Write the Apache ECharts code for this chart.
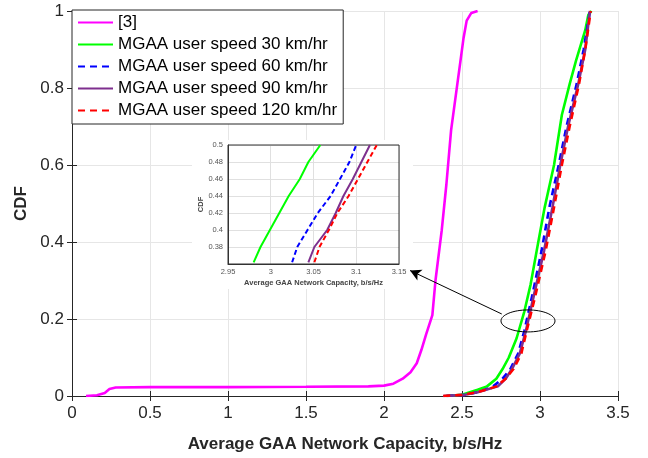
<!DOCTYPE html>
<html>
<head>
<meta charset="utf-8">
<script src="https://cdn.jsdelivr.net/npm/echarts@6/dist/echarts.min.js"></script>
<style>
  html, body { margin: 0; padding: 0; background: #fff; }
  #main { width: 648px; height: 458px; }
</style>
</head>
<body>
<div id="main"></div>
<script>
// legend names
var names = ['[3]', 'MGAA user speed 30 km/hr', 'MGAA user speed 60 km/hr', 'MGAA user speed 90 km/hr', 'MGAA user speed 120 km/hr']

// main plot, CDF curves (capacity x, cdf y)
var refX = [0.09, 0.16, 0.21, 0.24, 0.28, 0.5, 1.0, 1.5, 1.9, 2.0, 2.06, 2.12, 2.17, 2.21, 2.24, 2.27, 2.31, 2.33, 2.37, 2.40, 2.43, 2.47, 2.49, 2.51, 2.53, 2.56, 2.60]
var refY = [0, 0.002, 0.008, 0.018, 0.022, 0.023, 0.023, 0.024, 0.025, 0.027, 0.032, 0.045, 0.062, 0.085, 0.12, 0.16, 0.21, 0.30, 0.43, 0.55, 0.69, 0.81, 0.87, 0.93, 0.975, 0.995, 1.0]

var s30X = [2.40, 2.50, 2.55, 2.60, 2.66, 2.72, 2.76, 2.80, 2.85, 2.90, 2.94, 2.98, 3.03, 3.09, 3.14, 3.19, 3.23, 3.26, 3.29, 3.31, 3.33]
var s30Y = [0, 0.003, 0.01, 0.016, 0.025, 0.045, 0.07, 0.10, 0.15, 0.22, 0.29, 0.38, 0.49, 0.60, 0.73, 0.81, 0.87, 0.91, 0.95, 0.99, 1.0]

var speedY = [0, 0.003, 0.01, 0.018, 0.025, 0.045, 0.07, 0.11, 0.17, 0.26, 0.377, 0.49, 0.60, 0.70, 0.81, 0.90, 1.0]
var s60X  = [2.40, 2.52, 2.60, 2.66, 2.70, 2.76, 2.81, 2.86, 2.90, 2.95, 3.01, 3.06, 3.12, 3.17, 3.235, 3.28, 3.32]
var s90X  = [2.38, 2.52, 2.60, 2.67, 2.73, 2.78, 2.82, 2.87, 2.91, 2.96, 3.026, 3.08, 3.13, 3.18, 3.245, 3.29, 3.32]
var s120X = [2.38, 2.50, 2.60, 2.67, 2.72, 2.78, 2.83, 2.88, 2.915, 2.97, 3.036, 3.09, 3.14, 3.19, 3.25, 3.29, 3.325]

// inset (zoom of 0.36..0.5)
var insetY    = [0.362, 0.38, 0.40, 0.42, 0.44, 0.46, 0.48, 0.50]
var inset30X  = [2.980, 2.988, 2.999, 3.010, 3.021, 3.034, 3.044, 3.058]
var inset60X  = [3.025, 3.031, 3.043, 3.055, 3.070, 3.081, 3.092, 3.100]
var inset90X  = [3.044, 3.051, 3.066, 3.076, 3.085, 3.096, 3.106, 3.116]
var inset120X = [3.051, 3.057, 3.068, 3.078, 3.091, 3.102, 3.113, 3.124]

var colors = ['#ff00ff', '#00ff00', '#0000ff', '#7e2f8e', '#ff0000']
var font = 'Liberation Sans, Arial, Helvetica, sans-serif'

function pairs(xs, ys) {
  return xs.map(function (x, i) { return [x, ys[i]] })
}

function mainLine(i, data, dashed) {
  return {
    name: names[i], type: 'line', xAxisIndex: 0, yAxisIndex: 0,
    data: data, showSymbol: false, symbol: 'none', silent: true,
    lineStyle: { color: colors[i], width: 2.6, type: dashed ? [7, 5] : 'solid' },
    itemStyle: { color: colors[i] }
  }
}

function insetLine(i, data, dashed) {
  return {
    type: 'line', xAxisIndex: 2, yAxisIndex: 2, z: 4,
    data: data, showSymbol: false, symbol: 'none', silent: true,
    lineStyle: { color: colors[i], width: 2, type: dashed ? [5, 3] : 'solid' }
  }
}

var myChart = echarts.init(document.getElementById('main'), null, { renderer: 'canvas' })

var refSeries = mainLine(0, pairs(refX, refY), false)
// arrow from the ellipse to the inset
refSeries.markLine = {
  silent: true, symbol: ['none', 'arrow'], symbolSize: [9, 11],
  label: { show: false },
  lineStyle: { color: '#000', width: 1, type: 'solid' },
  data: [[{ coord: [2.755, 0.213] }, { coord: [2.167, 0.326] }]]
}

var option = {
  animation: false,
  backgroundColor: '#fff',
  textStyle: { fontFamily: font },
  grid: [
    { left: 72, right: 30, top: 11, bottom: 58.5, show: false },
    { left: 228, right: 249, top: 145, bottom: 194, show: true, z: 2, backgroundColor: '#fff', borderWidth: 0 }
  ],
  legend: {
    orient: 'vertical', left: 72, top: 10, width: 269,
    padding: [3, 6, 4, 5], itemGap: 3, itemWidth: 35, itemHeight: 14,
    borderColor: '#262626', borderWidth: 1, backgroundColor: '#fff',
    selectedMode: false, z: 5,
    itemStyle: { opacity: 0 },
    textStyle: { fontFamily: font, fontSize: 17, color: '#000', lineHeight: 19 },
    data: names
  },
  xAxis: [
    {
      type: 'value', gridIndex: 0, min: 0, max: 3.5, interval: 0.5,
      name: 'Average GAA Network Capacity, b/s/Hz', nameLocation: 'middle', nameGap: 40,
      nameTextStyle: { fontSize: 17, fontWeight: 'bold', color: '#262626', fontFamily: font },
      axisLine: { show: true, lineStyle: { color: '#262626', width: 1 } },
      axisTick: { show: true, inside: true, length: 5, lineStyle: { color: '#262626' } },
      axisLabel: { fontSize: 17, color: '#262626', margin: 9, fontFamily: font },
      splitLine: { show: true, lineStyle: { color: '#e6e6e6', width: 1 } }
    },
    {
      type: 'value', gridIndex: 0, min: 0, max: 3.5, interval: 0.5, position: 'top',
      axisLine: { show: true, lineStyle: { color: '#262626', width: 1 } },
      axisTick: { show: true, inside: true, length: 5, lineStyle: { color: '#262626' } },
      axisLabel: { show: false }, splitLine: { show: false }
    },
    {
      type: 'value', gridIndex: 1, min: 2.95, max: 3.15, interval: 0.05, z: 2,
      name: 'Average GAA Network Capacity, b/s/Hz', nameLocation: 'middle', nameGap: 15,
      nameTextStyle: { fontSize: 7.5, fontWeight: 'bold', color: '#444', fontFamily: font },
      axisLine: { show: true, onZero: false, lineStyle: { color: '#333', width: 1 } },
      axisTick: { show: false },
      axisLabel: { fontSize: 7.5, color: '#555', margin: 4, fontFamily: font },
      splitLine: { show: true, lineStyle: { color: '#e0e0e0', width: 1 } }
    }
  ],
  yAxis: [
    {
      type: 'value', gridIndex: 0, min: 0, max: 1, interval: 0.2,
      name: 'CDF', nameLocation: 'middle', nameGap: 38, nameRotate: 90,
      nameTextStyle: { fontSize: 17, fontWeight: 'bold', color: '#262626', fontFamily: font },
      axisLine: { show: true, lineStyle: { color: '#262626', width: 1 } },
      axisTick: { show: true, inside: true, length: 5, lineStyle: { color: '#262626' } },
      axisLabel: { fontSize: 17, color: '#262626', margin: 8, fontFamily: font },
      splitLine: { show: true, lineStyle: { color: '#e6e6e6', width: 1 } }
    },
    {
      type: 'value', gridIndex: 0, min: 0, max: 1, interval: 0.2, position: 'right',
      axisLine: { show: true, lineStyle: { color: '#262626', width: 1 } },
      axisTick: { show: true, inside: true, length: 5, lineStyle: { color: '#262626' } },
      axisLabel: { show: false }, splitLine: { show: false }
    },
    {
      type: 'value', gridIndex: 1, min: 0.36, max: 0.5, interval: 0.02, z: 2,
      name: 'CDF', nameLocation: 'middle', nameGap: 23, nameRotate: 90,
      nameTextStyle: { fontSize: 7.5, fontWeight: 'bold', color: '#444', fontFamily: font },
      axisLine: { show: true, onZero: false, lineStyle: { color: '#333', width: 1 } },
      axisTick: { show: false },
      axisLabel: { fontSize: 7.5, color: '#555', margin: 5, showMinLabel: false, fontFamily: font },
      splitLine: { show: true, lineStyle: { color: '#e0e0e0', width: 1 } }
    }
  ],
  series: [
    refSeries,
    mainLine(1, pairs(s30X, s30Y), false),
    mainLine(2, pairs(s60X, speedY), true),
    mainLine(3, pairs(s90X, speedY), false),
    mainLine(4, pairs(s120X, speedY), true),
    insetLine(1, pairs(inset30X, insetY), false),
    insetLine(2, pairs(inset60X, insetY), true),
    insetLine(3, pairs(inset90X, insetY), false),
    insetLine(4, pairs(inset120X, insetY), true)
  ]
}
myChart.setOption(option)

// inset box outline, white patch behind its labels, and the ellipse
var c = myChart.convertToPixel({ gridIndex: 0 }, [2.923, 0.195])
var tl = myChart.convertToPixel({ gridIndex: 1 }, [2.95, 0.5])
var br = myChart.convertToPixel({ gridIndex: 1 }, [3.15, 0.36])
myChart.setOption({
  graphic: [
    { type: 'rect', z: 1, silent: true, shape: { x: tl[0] - 36, y: tl[1] - 5, width: br[0] - tl[0] + 50, height: br[1] - tl[1] + 30 }, style: { fill: '#fff' } },
    { type: 'rect', z: 3, silent: true, shape: { x: tl[0], y: tl[1], width: br[0] - tl[0], height: br[1] - tl[1] }, style: { fill: 'none', stroke: '#333', lineWidth: 1 } },
    { type: 'ellipse', z: 6, silent: true, shape: { cx: c[0], cy: c[1], rx: 27, ry: 11 }, style: { fill: 'none', stroke: '#000', lineWidth: 1 } }
  ]
})
</script>
</body>
</html>
